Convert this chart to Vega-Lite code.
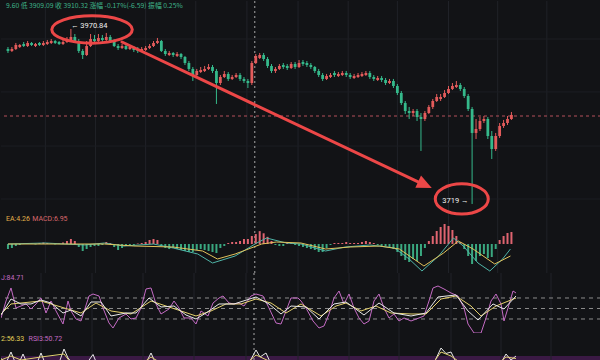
{
"$schema": "https://vega.github.io/schema/vega-lite/v6.json",
"background": "#121316",
"padding": 0,
"spacing": 0,
"bounds": "flush",
"resolve": {"scale": {"color": "independent"}},
"config": {"view": {"stroke": null}, "axis": {"disable": true}, "legend": {"disable": true}, "concat": {"spacing": 0}},
"datasets": {
"grid": [{"i":9.5},{"i":22.25},{"i":35},{"i":47.75},{"i":60.75},{"i":73.75},{"i":86.5},{"i":99},{"i":112},{"i":124.5},{"i":137}],
"hgrid": [{"p":3956.4},{"p":3880.2},{"p":3802.4},{"p":3726.2}],
"k": [
{"i":0,"o":3942.0,"h":3944.9,"l":3936.3,"c":3939.2},
{"i":1,"o":3939.2,"h":3944.9,"l":3937.7,"c":3942.0},
{"i":2,"o":3942.0,"h":3950.7,"l":3940.6,"c":3947.8},
{"i":3,"o":3944.9,"h":3949.2,"l":3943.5,"c":3947.8},
{"i":4,"o":3949.2,"h":3952.1,"l":3944.9,"c":3946.3},
{"i":5,"o":3946.3,"h":3953.5,"l":3944.9,"c":3950.7},
{"i":6,"o":3950.7,"h":3952.1,"l":3946.3,"c":3947.8},
{"i":7,"o":3946.3,"h":3950.7,"l":3944.9,"c":3949.2},
{"i":8,"o":3950.7,"h":3952.1,"l":3946.3,"c":3947.8},
{"i":9,"o":3947.8,"h":3953.5,"l":3946.3,"c":3950.7},
{"i":10,"o":3949.2,"h":3955.0,"l":3947.8,"c":3952.1},
{"i":11,"o":3950.7,"h":3956.4,"l":3949.2,"c":3953.5},
{"i":12,"o":3953.5,"h":3955.0,"l":3949.2,"c":3950.7},
{"i":13,"o":3952.1,"h":3953.5,"l":3947.8,"c":3949.2},
{"i":14,"o":3949.2,"h":3955.0,"l":3947.8,"c":3952.1},
{"i":15,"o":3952.1,"h":3959.3,"l":3950.7,"c":3955.0},
{"i":16,"o":3955.0,"h":3970.84,"l":3953.5,"c":3959.3},
{"i":17,"o":3959.3,"h":3963.6,"l":3952.1,"c":3953.5},
{"i":18,"o":3953.5,"h":3956.4,"l":3936.3,"c":3939.2},
{"i":19,"o":3939.2,"h":3942.0,"l":3927.6,"c":3933.4},
{"i":20,"o":3933.4,"h":3953.5,"l":3932.0,"c":3946.3},
{"i":21,"o":3946.3,"h":3963.6,"l":3944.9,"c":3956.4},
{"i":22,"o":3956.4,"h":3962.2,"l":3950.7,"c":3953.5},
{"i":23,"o":3953.5,"h":3963.6,"l":3952.1,"c":3957.9},
{"i":24,"o":3957.9,"h":3962.2,"l":3952.1,"c":3955.0},
{"i":25,"o":3955.0,"h":3965.1,"l":3953.5,"c":3959.3},
{"i":26,"o":3959.3,"h":3962.2,"l":3952.1,"c":3953.5},
{"i":27,"o":3953.5,"h":3956.4,"l":3944.9,"c":3946.3},
{"i":28,"o":3946.3,"h":3949.2,"l":3940.6,"c":3943.5},
{"i":29,"o":3943.5,"h":3949.2,"l":3942.0,"c":3946.3},
{"i":30,"o":3946.3,"h":3947.8,"l":3940.6,"c":3942.0},
{"i":31,"o":3942.0,"h":3947.8,"l":3940.6,"c":3944.9},
{"i":32,"o":3944.9,"h":3946.3,"l":3937.7,"c":3940.6},
{"i":33,"o":3942.0,"h":3944.9,"l":3936.3,"c":3939.2},
{"i":34,"o":3939.2,"h":3944.9,"l":3937.7,"c":3942.0},
{"i":35,"o":3940.6,"h":3946.3,"l":3939.2,"c":3943.5},
{"i":36,"o":3943.5,"h":3949.2,"l":3942.0,"c":3946.3},
{"i":37,"o":3946.3,"h":3953.5,"l":3944.9,"c":3950.7},
{"i":38,"o":3950.7,"h":3957.9,"l":3949.2,"c":3953.5},
{"i":39,"o":3953.5,"h":3955.0,"l":3937.7,"c":3939.2},
{"i":40,"o":3939.2,"h":3942.0,"l":3932.0,"c":3934.8},
{"i":41,"o":3933.4,"h":3939.2,"l":3932.0,"c":3936.3},
{"i":42,"o":3936.3,"h":3937.7,"l":3930.5,"c":3933.4},
{"i":43,"o":3932.0,"h":3937.7,"l":3930.5,"c":3934.8},
{"i":44,"o":3934.8,"h":3936.3,"l":3927.6,"c":3930.5},
{"i":45,"o":3930.5,"h":3932.0,"l":3919.0,"c":3921.9},
{"i":46,"o":3921.9,"h":3924.8,"l":3910.4,"c":3913.3},
{"i":47,"o":3913.3,"h":3916.1,"l":3896.0,"c":3904.6},
{"i":48,"o":3904.6,"h":3913.3,"l":3901.7,"c":3910.4},
{"i":49,"o":3908.9,"h":3916.1,"l":3907.5,"c":3911.8},
{"i":50,"o":3910.4,"h":3917.6,"l":3908.9,"c":3913.3},
{"i":51,"o":3913.3,"h":3920.4,"l":3911.8,"c":3916.1},
{"i":52,"o":3916.1,"h":3919.0,"l":3907.5,"c":3910.4},
{"i":53,"o":3910.4,"h":3913.3,"l":3862.9,"c":3893.1},
{"i":54,"o":3893.1,"h":3904.6,"l":3890.2,"c":3901.7},
{"i":55,"o":3901.7,"h":3910.4,"l":3900.3,"c":3906.1},
{"i":56,"o":3906.1,"h":3908.9,"l":3896.0,"c":3898.9},
{"i":57,"o":3898.9,"h":3904.6,"l":3897.4,"c":3901.7},
{"i":58,"o":3901.7,"h":3907.5,"l":3900.3,"c":3904.6},
{"i":59,"o":3904.6,"h":3907.5,"l":3896.0,"c":3898.9},
{"i":60,"o":3898.9,"h":3901.7,"l":3893.1,"c":3896.0},
{"i":61,"o":3896.0,"h":3898.9,"l":3885.9,"c":3893.1},
{"i":62,"o":3893.1,"h":3924.8,"l":3890.2,"c":3921.9},
{"i":63,"o":3921.9,"h":3934.8,"l":3920.4,"c":3932.0},
{"i":64,"o":3929.1,"h":3936.3,"l":3927.6,"c":3933.4},
{"i":65,"o":3933.4,"h":3936.3,"l":3924.8,"c":3927.6},
{"i":66,"o":3927.6,"h":3930.5,"l":3914.7,"c":3917.6},
{"i":67,"o":3917.6,"h":3920.4,"l":3907.5,"c":3910.4},
{"i":68,"o":3910.4,"h":3916.1,"l":3907.5,"c":3913.3},
{"i":69,"o":3913.3,"h":3920.4,"l":3911.8,"c":3917.6},
{"i":70,"o":3919.0,"h":3921.9,"l":3913.3,"c":3916.1},
{"i":71,"o":3917.6,"h":3920.4,"l":3911.8,"c":3914.7},
{"i":72,"o":3914.7,"h":3923.3,"l":3913.3,"c":3920.4},
{"i":73,"o":3920.4,"h":3923.3,"l":3913.3,"c":3916.1},
{"i":74,"o":3916.1,"h":3926.2,"l":3914.7,"c":3921.9},
{"i":75,"o":3923.3,"h":3926.2,"l":3917.6,"c":3920.4},
{"i":76,"o":3921.9,"h":3924.8,"l":3916.1,"c":3919.0},
{"i":77,"o":3919.0,"h":3921.9,"l":3913.3,"c":3916.1},
{"i":78,"o":3916.1,"h":3917.6,"l":3907.5,"c":3910.4},
{"i":79,"o":3910.4,"h":3913.3,"l":3901.7,"c":3904.6},
{"i":80,"o":3904.6,"h":3907.5,"l":3896.0,"c":3898.9},
{"i":81,"o":3898.9,"h":3906.1,"l":3897.4,"c":3903.2},
{"i":82,"o":3901.7,"h":3907.5,"l":3900.3,"c":3904.6},
{"i":83,"o":3907.5,"h":3910.4,"l":3901.7,"c":3904.6},
{"i":84,"o":3903.2,"h":3908.9,"l":3901.7,"c":3906.1},
{"i":85,"o":3904.6,"h":3910.4,"l":3903.2,"c":3907.5},
{"i":86,"o":3907.5,"h":3910.4,"l":3901.7,"c":3904.6},
{"i":87,"o":3904.6,"h":3907.5,"l":3898.9,"c":3901.7},
{"i":88,"o":3900.3,"h":3906.1,"l":3898.9,"c":3903.2},
{"i":89,"o":3901.7,"h":3907.5,"l":3900.3,"c":3904.6},
{"i":90,"o":3903.2,"h":3908.9,"l":3901.7,"c":3906.1},
{"i":91,"o":3904.6,"h":3910.4,"l":3903.2,"c":3907.5},
{"i":92,"o":3907.5,"h":3910.4,"l":3898.9,"c":3901.7},
{"i":93,"o":3901.7,"h":3904.6,"l":3896.0,"c":3898.9},
{"i":94,"o":3897.4,"h":3903.2,"l":3896.0,"c":3900.3},
{"i":95,"o":3900.3,"h":3903.2,"l":3894.5,"c":3897.4},
{"i":96,"o":3897.4,"h":3900.3,"l":3890.2,"c":3893.1},
{"i":97,"o":3893.1,"h":3898.9,"l":3891.7,"c":3896.0},
{"i":98,"o":3896.0,"h":3898.9,"l":3885.9,"c":3888.8},
{"i":99,"o":3888.8,"h":3891.7,"l":3875.8,"c":3878.7},
{"i":100,"o":3878.7,"h":3881.6,"l":3861.4,"c":3864.3},
{"i":101,"o":3864.3,"h":3867.2,"l":3848.5,"c":3852.8},
{"i":102,"o":3852.8,"h":3858.6,"l":3841.3,"c":3849.9},
{"i":103,"o":3849.9,"h":3855.7,"l":3845.6,"c":3852.8},
{"i":104,"o":3852.8,"h":3855.7,"l":3838.4,"c":3844.2},
{"i":105,"o":3844.2,"h":3849.9,"l":3795.3,"c":3841.3},
{"i":106,"o":3841.3,"h":3852.8,"l":3838.4,"c":3849.9},
{"i":107,"o":3849.9,"h":3861.4,"l":3848.5,"c":3858.6},
{"i":108,"o":3858.6,"h":3870.1,"l":3855.7,"c":3867.2},
{"i":109,"o":3867.2,"h":3877.3,"l":3865.8,"c":3873.0},
{"i":110,"o":3870.1,"h":3877.3,"l":3867.2,"c":3873.0},
{"i":111,"o":3873.0,"h":3883.0,"l":3871.5,"c":3878.7},
{"i":112,"o":3878.7,"h":3888.8,"l":3877.3,"c":3884.5},
{"i":113,"o":3884.5,"h":3893.1,"l":3883.0,"c":3888.8},
{"i":114,"o":3887.3,"h":3896.0,"l":3885.9,"c":3890.2},
{"i":115,"o":3890.2,"h":3893.1,"l":3881.6,"c":3884.5},
{"i":116,"o":3884.5,"h":3887.3,"l":3871.5,"c":3874.4},
{"i":117,"o":3874.4,"h":3877.3,"l":3852.8,"c":3855.7},
{"i":118,"o":3855.7,"h":3858.6,"l":3719.0,"c":3821.2},
{"i":119,"o":3821.2,"h":3841.3,"l":3812.5,"c":3826.9},
{"i":120,"o":3826.9,"h":3844.2,"l":3824.0,"c":3838.4},
{"i":121,"o":3838.4,"h":3845.6,"l":3835.5,"c":3841.3},
{"i":122,"o":3841.3,"h":3844.2,"l":3812.5,"c":3816.8},
{"i":123,"o":3816.8,"h":3824.0,"l":3783.7,"c":3798.1},
{"i":124,"o":3798.1,"h":3821.2,"l":3795.3,"c":3816.8},
{"i":125,"o":3816.8,"h":3835.5,"l":3814.0,"c":3831.2},
{"i":126,"o":3831.2,"h":3839.9,"l":3828.4,"c":3835.5},
{"i":127,"o":3835.5,"h":3845.6,"l":3832.7,"c":3841.3},
{"i":128,"o":3841.3,"h":3851.4,"l":3839.9,"c":3847.1}
],
"m": [
{"i":0,"m":-3.5},{"i":1,"m":-2.8},{"i":2,"m":-1.4},{"i":3,"m":-0.7},{"i":4,"m":0.35},{"i":5,"m":0.7},{"i":6,"m":0.35},{"i":7,"m":-0.35},{"i":8,"m":0.7},{"i":9,"m":1.05},
{"i":10,"m":0.7},{"i":11,"m":0.35},{"i":12,"m":-0.35},{"i":13,"m":0.35},{"i":14,"m":1.05},{"i":15,"m":2.1},{"i":16,"m":3.5},{"i":17,"m":2.1},{"i":18,"m":-2.1},{"i":19,"m":-4.9},
{"i":20,"m":-3.5},{"i":21,"m":-2.1},{"i":22,"m":-1.4},{"i":23,"m":-1.4},{"i":24,"m":-0.7},{"i":25,"m":1.4},{"i":26,"m":0.7},{"i":27,"m":-2.1},{"i":28,"m":-4.2},{"i":29,"m":-2.8},
{"i":30,"m":-1.4},{"i":31,"m":-0.7},{"i":32,"m":-0.7},{"i":33,"m":0.35},{"i":34,"m":0.7},{"i":35,"m":1.4},{"i":36,"m":2.8},{"i":37,"m":3.5},{"i":38,"m":2.8},{"i":39,"m":-1.4},
{"i":40,"m":-2.8},{"i":41,"m":-3.5},{"i":42,"m":-2.8},{"i":43,"m":-3.5},{"i":44,"m":-4.2},{"i":45,"m":-4.9},{"i":46,"m":-5.6},{"i":47,"m":-5.6},{"i":48,"m":-4.2},{"i":49,"m":-3.5},
{"i":50,"m":-4.2},{"i":51,"m":-4.9},{"i":52,"m":-5.6},{"i":53,"m":-6.3},{"i":54,"m":-2.8},{"i":55,"m":-1.4},{"i":56,"m":0.7},{"i":57,"m":1.4},{"i":58,"m":1.4},{"i":59,"m":2.1},
{"i":60,"m":3.5},{"i":61,"m":3.5},{"i":62,"m":5.6},{"i":63,"m":6.95},{"i":64,"m":9.0},{"i":65,"m":7.5},{"i":66,"m":5.0},{"i":67,"m":2.1},{"i":68,"m":-0.7},{"i":69,"m":-1.4},
{"i":70,"m":-1.4},{"i":71,"m":0.7},{"i":72,"m":0.7},{"i":73,"m":-0.7},{"i":74,"m":-1.4},{"i":75,"m":-2.1},{"i":76,"m":-2.8},{"i":77,"m":-3.5},{"i":78,"m":-4.2},{"i":79,"m":-5.6},
{"i":80,"m":-5.6},{"i":81,"m":-2.8},{"i":82,"m":-0.7},{"i":83,"m":0.7},{"i":84,"m":0.7},{"i":85,"m":0.7},{"i":86,"m":1.4},{"i":87,"m":0.7},{"i":88,"m":0.7},{"i":89,"m":0.7},
{"i":90,"m":1.4},{"i":91,"m":2.1},{"i":92,"m":1.4},{"i":93,"m":0.7},{"i":94,"m":-0.7},{"i":95,"m":-1.4},{"i":96,"m":-1.4},{"i":97,"m":-2.1},{"i":98,"m":-3.5},{"i":99,"m":-5.6},
{"i":100,"m":-8.4},{"i":101,"m":-11.2},{"i":102,"m":-12.6},{"i":103,"m":-10.5},{"i":104,"m":-11.9},{"i":105,"m":-8.4},{"i":106,"m":-2.8},{"i":107,"m":2.1},{"i":108,"m":5.6},{"i":109,"m":9.1},
{"i":110,"m":11.9},{"i":111,"m":14.0},{"i":112,"m":12.6},{"i":113,"m":9.8},{"i":114,"m":5.6},{"i":115,"m":1.4},{"i":116,"m":-3.5},{"i":117,"m":-8.4},{"i":118,"m":-14.0},{"i":119,"m":-11.9},
{"i":120,"m":-8.4},{"i":121,"m":-7.0},{"i":122,"m":-9.8},{"i":123,"m":-9.1},{"i":124,"m":-3.5},{"i":125,"m":2.8},{"i":126,"m":5.6},{"i":127,"m":7.7},{"i":128,"m":8.4}
],
"ml": [
{"i":0,"v":0,"s":"DIF"},{"i":9.5,"v":0.7,"s":"DIF"},{"i":19.5,"v":-0.7,"s":"DIF"},{"i":24.5,"v":0.7,"s":"DIF"},{"i":29.5,"v":-1.4,"s":"DIF"},{"i":37,"v":0,"s":"DIF"},{"i":42,"v":-2.8,"s":"DIF"},{"i":48.25,"v":-7,"s":"DIF"},{"i":52,"v":-13.3,"s":"DIF"},{"i":57.75,"v":-8.4,"s":"DIF"},{"i":63.25,"v":0.7,"s":"DIF"},{"i":65.75,"v":4.2,"s":"DIF"},{"i":70.75,"v":0.7,"s":"DIF"},{"i":74.5,"v":0,"s":"DIF"},{"i":80.75,"v":-4.9,"s":"DIF"},{"i":85.75,"v":-2.1,"s":"DIF"},{"i":92,"v":-0.7,"s":"DIF"},{"i":98.25,"v":-2.8,"s":"DIF"},{"i":102,"v":-10.5,"s":"DIF"},{"i":105.25,"v":-18.9,"s":"DIF"},{"i":109.5,"v":-8.4,"s":"DIF"},{"i":113.25,"v":4.2,"s":"DIF"},{"i":115.75,"v":-1.4,"s":"DIF"},{"i":119.5,"v":-13.3,"s":"DIF"},{"i":122.5,"v":-18.9,"s":"DIF"},{"i":125.75,"v":-10.5,"s":"DIF"},{"i":127.75,"v":-3.5,"s":"DIF"},
{"i":0,"v":0,"s":"DEA"},{"i":12,"v":0,"s":"DEA"},{"i":24.5,"v":0,"s":"DEA"},{"i":32,"v":-1.4,"s":"DEA"},{"i":42,"v":-2.1,"s":"DEA"},{"i":49.5,"v":-4.9,"s":"DEA"},{"i":53.25,"v":-10.5,"s":"DEA"},{"i":57.75,"v":-7.0,"s":"DEA"},{"i":64.5,"v":0,"s":"DEA"},{"i":68.25,"v":1.4,"s":"DEA"},{"i":74.5,"v":0.7,"s":"DEA"},{"i":80.75,"v":-3.5,"s":"DEA"},{"i":87,"v":-2.1,"s":"DEA"},{"i":94.5,"v":-1.4,"s":"DEA"},{"i":99.5,"v":-3.5,"s":"DEA"},{"i":105.75,"v":-15.4,"s":"DEA"},{"i":110.75,"v":-6.3,"s":"DEA"},{"i":114.5,"v":2.1,"s":"DEA"},{"i":118.25,"v":-3.5,"s":"DEA"},{"i":123.75,"v":-14.0,"s":"DEA"},{"i":127.75,"v":-8.4,"s":"DEA"}
],
"kdj": [
{"i":-0.5,"v":22.9,"s":"J"},{"i":0.75,"v":71.4,"s":"J"},{"i":2,"v":108.6,"s":"J"},{"i":3.25,"v":51.4,"s":"J"},{"i":5.75,"v":62.9,"s":"J"},{"i":7,"v":48.6,"s":"J"},{"i":8.25,"v":62.9,"s":"J"},{"i":9.5,"v":80,"s":"J"},{"i":10.75,"v":37.1,"s":"J"},{"i":12,"v":71.4,"s":"J"},{"i":13.25,"v":42.9,"s":"J"},{"i":15,"v":5.7,"s":"J"},{"i":16.25,"v":71.4,"s":"J"},{"i":17,"v":42.9,"s":"J"},{"i":18.25,"v":20,"s":"J"},{"i":19.5,"v":14.3,"s":"J"},{"i":21.5,"v":85.7,"s":"J"},{"i":22.5,"v":91.4,"s":"J"},{"i":24,"v":85.7,"s":"J"},{"i":25,"v":51.4,"s":"J"},{"i":26.5,"v":8.6,"s":"J"},{"i":27.5,"v":-5.7,"s":"J"},{"i":29,"v":22.9,"s":"J"},{"i":30.75,"v":34.3,"s":"J"},{"i":32,"v":20,"s":"J"},{"i":33.25,"v":22.9,"s":"J"},{"i":34.5,"v":51.4,"s":"J"},{"i":35.75,"v":105.7,"s":"J"},{"i":37,"v":108.6,"s":"J"},{"i":38.25,"v":62.9,"s":"J"},{"i":39.5,"v":34.3,"s":"J"},{"i":41.5,"v":48.6,"s":"J"},{"i":42.75,"v":71.4,"s":"J"},{"i":44,"v":51.4,"s":"J"},{"i":45.25,"v":22.9,"s":"J"},{"i":47,"v":22.9,"s":"J"},{"i":48.25,"v":5.7,"s":"J"},{"i":49.5,"v":42.9,"s":"J"},{"i":51.25,"v":28.6,"s":"J"},{"i":52.5,"v":65.7,"s":"J"},{"i":54,"v":80,"s":"J"},{"i":55,"v":85.7,"s":"J"},{"i":56.5,"v":65.7,"s":"J"},{"i":57.75,"v":62.9,"s":"J"},{"i":59,"v":65.7,"s":"J"},{"i":60.25,"v":57.1,"s":"J"},{"i":62,"v":85.7,"s":"J"},{"i":63.25,"v":91.4,"s":"J"},{"i":65,"v":85.7,"s":"J"},{"i":66.5,"v":51.4,"s":"J"},{"i":68.25,"v":8.6,"s":"J"},{"i":69.5,"v":5.7,"s":"J"},{"i":70.75,"v":42.9,"s":"J"},{"i":72,"v":80,"s":"J"},{"i":73.75,"v":80,"s":"J"},{"i":74.5,"v":71.4,"s":"J"},{"i":75.75,"v":51.4,"s":"J"},{"i":77.5,"v":14.3,"s":"J"},{"i":79,"v":-5.7,"s":"J"},{"i":80.25,"v":0,"s":"J"},{"i":81.5,"v":34.3,"s":"J"},{"i":82.75,"v":80,"s":"J"},{"i":84,"v":100,"s":"J"},{"i":85.25,"v":62.9,"s":"J"},{"i":86.5,"v":91.4,"s":"J"},{"i":87.75,"v":51.4,"s":"J"},{"i":89,"v":22.9,"s":"J"},{"i":90.25,"v":5.7,"s":"J"},{"i":91.5,"v":14.3,"s":"J"},{"i":92.75,"v":71.4,"s":"J"},{"i":94,"v":91.4,"s":"J"},{"i":95.25,"v":51.4,"s":"J"},{"i":96.5,"v":22.9,"s":"J"},{"i":97.75,"v":34.3,"s":"J"},{"i":99,"v":14.3,"s":"J"},{"i":100.25,"v":22.9,"s":"J"},{"i":102,"v":14.3,"s":"J"},{"i":104,"v":22.9,"s":"J"},{"i":105.25,"v":28.6,"s":"J"},{"i":106.5,"v":71.4,"s":"J"},{"i":107.5,"v":108.6,"s":"J"},{"i":108.75,"v":114.3,"s":"J"},{"i":110.25,"v":105.7,"s":"J"},{"i":112,"v":94.3,"s":"J"},{"i":113.75,"v":85.7,"s":"J"},{"i":115.25,"v":51.4,"s":"J"},{"i":116.25,"v":5.7,"s":"J"},{"i":117.75,"v":-20,"s":"J"},{"i":119.5,"v":-20,"s":"J"},{"i":120.75,"v":22.9,"s":"J"},{"i":122,"v":71.4,"s":"J"},{"i":123.25,"v":91.4,"s":"J"},{"i":124.5,"v":62.9,"s":"J"},{"i":125.25,"v":14.3,"s":"J"},{"i":126.25,"v":51.4,"s":"J"},{"i":127.5,"v":100,"s":"J"},{"i":128.25,"v":94.3,"s":"J"},
{"i":-0.5,"v":34.3,"s":"D"},{"i":2,"v":62.9,"s":"D"},{"i":4.5,"v":65.7,"s":"D"},{"i":9.5,"v":71.4,"s":"D"},{"i":14.5,"v":54.3,"s":"D"},{"i":19.5,"v":37.1,"s":"D"},{"i":23.25,"v":65.7,"s":"D"},{"i":27,"v":42.9,"s":"D"},{"i":32,"v":34.3,"s":"D"},{"i":37,"v":71.4,"s":"D"},{"i":40.75,"v":57.1,"s":"D"},{"i":44.5,"v":42.9,"s":"D"},{"i":48.25,"v":28.6,"s":"D"},{"i":52,"v":42.9,"s":"D"},{"i":55.75,"v":62.9,"s":"D"},{"i":59.5,"v":62.9,"s":"D"},{"i":63.25,"v":77.1,"s":"D"},{"i":67,"v":65.7,"s":"D"},{"i":70.75,"v":37.1,"s":"D"},{"i":74.5,"v":62.9,"s":"D"},{"i":79.5,"v":28.6,"s":"D"},{"i":83.25,"v":57.1,"s":"D"},{"i":85.75,"v":65.7,"s":"D"},{"i":89.5,"v":42.9,"s":"D"},{"i":93.25,"v":57.1,"s":"D"},{"i":97,"v":37.1,"s":"D"},{"i":102,"v":34.3,"s":"D"},{"i":105.75,"v":34.3,"s":"D"},{"i":109.5,"v":77.1,"s":"D"},{"i":113.25,"v":85.7,"s":"D"},{"i":117,"v":57.1,"s":"D"},{"i":119.5,"v":28.6,"s":"D"},{"i":123.25,"v":57.1,"s":"D"},{"i":128.25,"v":80,"s":"D"},
{"i":-0.5,"v":31.4,"s":"K"},{"i":2,"v":77.1,"s":"K"},{"i":4.5,"v":62.9,"s":"K"},{"i":7,"v":62.9,"s":"K"},{"i":9.5,"v":74.3,"s":"K"},{"i":12,"v":65.7,"s":"K"},{"i":15,"v":37.1,"s":"K"},{"i":17,"v":45.7,"s":"K"},{"i":19.5,"v":28.6,"s":"K"},{"i":22,"v":68.6,"s":"K"},{"i":24.5,"v":68.6,"s":"K"},{"i":27,"v":28.6,"s":"K"},{"i":30.75,"v":37.1,"s":"K"},{"i":33.25,"v":37.1,"s":"K"},{"i":36.5,"v":80,"s":"K"},{"i":39.5,"v":54.3,"s":"K"},{"i":42.75,"v":57.1,"s":"K"},{"i":45.75,"v":31.4,"s":"K"},{"i":48.25,"v":20,"s":"K"},{"i":50.75,"v":37.1,"s":"K"},{"i":54,"v":62.9,"s":"K"},{"i":57.75,"v":62.9,"s":"K"},{"i":63.25,"v":82.9,"s":"K"},{"i":66.5,"v":62.9,"s":"K"},{"i":69.5,"v":34.3,"s":"K"},{"i":72,"v":57.1,"s":"K"},{"i":75.75,"v":54.3,"s":"K"},{"i":79,"v":20,"s":"K"},{"i":82.75,"v":62.9,"s":"K"},{"i":85.75,"v":68.6,"s":"K"},{"i":90.25,"v":31.4,"s":"K"},{"i":94,"v":65.7,"s":"K"},{"i":97.75,"v":37.1,"s":"K"},{"i":102,"v":28.6,"s":"K"},{"i":105.75,"v":37.1,"s":"K"},{"i":108.75,"v":82.9,"s":"K"},{"i":113.25,"v":88.6,"s":"K"},{"i":116.25,"v":42.9,"s":"K"},{"i":118.75,"v":17.1,"s":"K"},{"i":122.5,"v":62.9,"s":"K"},{"i":125.25,"v":48.6,"s":"K"},{"i":128.25,"v":85.7,"s":"K"}
],
"rsi": [
{"i":-0.5,"v":75,"s":"R1"},{"i":0.75,"v":66,"s":"R1"},{"i":2,"v":88,"s":"R1"},{"i":3,"v":68,"s":"R1"},{"i":4,"v":66,"s":"R1"},{"i":5,"v":84,"s":"R1"},{"i":6,"v":66,"s":"R1"},{"i":8.5,"v":66,"s":"R1"},{"i":9.5,"v":86,"s":"R1"},{"i":10.5,"v":66,"s":"R1"},{"i":14,"v":66,"s":"R1"},{"i":15.25,"v":94,"s":"R1"},{"i":16.25,"v":76,"s":"R1"},{"i":17.5,"v":64,"s":"R1"},{"i":21,"v":66,"s":"R1"},{"i":22.5,"v":83,"s":"R1"},{"i":23.5,"v":64,"s":"R1"},{"i":35.75,"v":66,"s":"R1"},{"i":37,"v":86,"s":"R1"},{"i":38.25,"v":64,"s":"R1"},{"i":61.5,"v":66,"s":"R1"},{"i":63.25,"v":92,"s":"R1"},{"i":64.25,"v":78,"s":"R1"},{"i":65.75,"v":86,"s":"R1"},{"i":67,"v":64,"s":"R1"},{"i":107.75,"v":66,"s":"R1"},{"i":109.5,"v":96,"s":"R1"},{"i":110.75,"v":85,"s":"R1"},{"i":112,"v":88,"s":"R1"},{"i":113.5,"v":64,"s":"R1"},{"i":124.5,"v":66,"s":"R1"},{"i":125.75,"v":84,"s":"R1"},{"i":127,"v":72,"s":"R1"},{"i":128.25,"v":80,"s":"R1"},
{"i":-0.5,"v":72,"s":"R2"},{"i":2,"v":80,"s":"R2"},{"i":4.5,"v":72,"s":"R2"},{"i":9.5,"v":78,"s":"R2"},{"i":15.25,"v":84,"s":"R2"},{"i":17,"v":66,"s":"R2"},{"i":35,"v":66,"s":"R2"},{"i":37,"v":78,"s":"R2"},{"i":39.5,"v":66,"s":"R2"},{"i":61,"v":66,"s":"R2"},{"i":63.25,"v":82,"s":"R2"},{"i":66.5,"v":70,"s":"R2"},{"i":68,"v":64,"s":"R2"},{"i":107.5,"v":66,"s":"R2"},{"i":109.5,"v":88,"s":"R2"},{"i":112,"v":80,"s":"R2"},{"i":114.5,"v":66,"s":"R2"},{"i":124,"v":66,"s":"R2"},{"i":125.75,"v":78,"s":"R2"},{"i":128.25,"v":75,"s":"R2"}
]
},
"vconcat": [
{
"width": 600, "height": 215,
"layer": [
{"data": {"name": "grid"}, "mark": {"type": "rule", "color": "#202228", "strokeWidth": 1},
 "encoding": {"x": {"field": "i", "type": "quantitative", "scale": {"domain": [-0.5, 149.5], "nice": false, "zero": false}}}},
{"data": {"name": "hgrid"}, "mark": {"type": "rule", "color": "#1c1e23", "strokeWidth": 1},
 "encoding": {"y": {"field": "p", "type": "quantitative", "scale": {"domain": [3701.7, 4011.1], "nice": false, "zero": false}}}},
{"data": {"values": [{"p": 3845.6}]}, "mark": {"type": "rule", "color": "#b4505a", "strokeDash": [3, 3], "strokeWidth": 1},
 "encoding": {"y": {"field": "p", "type": "quantitative", "scale": {"domain": [3701.7, 4011.1], "nice": false, "zero": false}}}},
{"data": {"values": [{"i": 62.75}]}, "mark": {"type": "rule", "color": "#a8a8a8", "strokeDash": [2, 3], "strokeWidth": 1},
 "encoding": {"x": {"field": "i", "type": "quantitative", "scale": {"domain": [-0.5, 149.5], "nice": false, "zero": false}}}},
{"data": {"name": "k"}, "mark": {"type": "rule", "strokeWidth": 1},
 "encoding": {
  "x": {"field": "i", "type": "quantitative", "scale": {"domain": [-0.5, 149.5], "nice": false, "zero": false}},
  "y": {"field": "l", "type": "quantitative", "scale": {"domain": [3701.7, 4011.1], "nice": false, "zero": false}},
  "y2": {"field": "h"},
  "color": {"condition": {"test": "datum.c >= datum.o", "value": "#e35b5b"}, "value": "#35b98b"}}},
{"data": {"name": "k"}, "mark": {"type": "bar", "width": 2.8},
 "encoding": {
  "x": {"field": "i", "type": "quantitative", "scale": {"domain": [-0.5, 149.5], "nice": false, "zero": false}},
  "y": {"field": "o", "type": "quantitative", "scale": {"domain": [3701.7, 4011.1], "nice": false, "zero": false}},
  "y2": {"field": "c"},
  "color": {"condition": {"test": "datum.c >= datum.o", "value": "#e35b5b"}, "value": "#35b98b"}}},
{"data": {"values": [{"i": 29, "p": 3952.1, "i2": 105.75, "p2": 3747.0}]}, "mark": {"type": "rule", "color": "#ec4747", "strokeWidth": 3, "strokeCap": "round"},
 "encoding": {
  "x": {"field": "i", "type": "quantitative", "scale": {"domain": [-0.5, 149.5], "nice": false, "zero": false}},
  "y": {"field": "p", "type": "quantitative", "scale": {"domain": [3701.7, 4011.1], "nice": false, "zero": false}},
  "x2": {"field": "i2"}, "y2": {"field": "p2"}}},
{"data": {"values": [{"i": 107.75, "p": 3742.0}]}, "mark": {"type": "point", "shape": "M0,0L-1,-0.45L-1,0.45Z", "size": 900, "filled": true, "color": "#ec4747", "opacity": 1, "angle": 24.9},
 "encoding": {
  "x": {"field": "i", "type": "quantitative", "scale": {"domain": [-0.5, 149.5], "nice": false, "zero": false}},
  "y": {"field": "p", "type": "quantitative", "scale": {"domain": [3701.7, 4011.1], "nice": false, "zero": false}}}},
{"data": {"values": [{"i": 21.375, "p": 3970.1}]}, "mark": {"type": "point", "shape": "M-1,0C-1,-0.188,-0.552,-0.34,0,-0.34C0.552,-0.34,1,-0.188,1,0C1,0.188,0.552,0.34,0,0.34C-0.552,0.34,-1,0.188,-1,0Z", "size": 6480, "filled": false, "stroke": "#ec4747", "strokeWidth": 3, "opacity": 1},
 "encoding": {
  "x": {"field": "i", "type": "quantitative", "scale": {"domain": [-0.5, 149.5], "nice": false, "zero": false}},
  "y": {"field": "p", "type": "quantitative", "scale": {"domain": [3701.7, 4011.1], "nice": false, "zero": false}}}},
{"data": {"values": [{"i": 115.375, "p": 3726.2}]}, "mark": {"type": "point", "shape": "M-1,0C-1,-0.315,-0.552,-0.57,0,-0.57C0.552,-0.57,1,-0.315,1,0C1,0.315,0.552,0.57,0,0.57C-0.552,0.57,-1,0.315,-1,0Z", "size": 2809, "filled": false, "stroke": "#ec4747", "strokeWidth": 3, "opacity": 1},
 "encoding": {
  "x": {"field": "i", "type": "quantitative", "scale": {"domain": [-0.5, 149.5], "nice": false, "zero": false}},
  "y": {"field": "p", "type": "quantitative", "scale": {"domain": [3701.7, 4011.1], "nice": false, "zero": false}}}},
{"data": {"values": [{"i": -0.5, "p": 4004.0, "t": "9.60  低 3909.09  收 3910.32  涨幅 -0.17%(-6.59)  振幅 0.25%"}]},
 "mark": {"type": "text", "align": "left", "baseline": "middle", "fontSize": 6.8, "font": "Noto Sans CJK SC", "color": "#3fb38a"},
 "encoding": {
  "x": {"field": "i", "type": "quantitative", "scale": {"domain": [-0.5, 149.5], "nice": false, "zero": false}},
  "y": {"field": "p", "type": "quantitative", "scale": {"domain": [3701.7, 4011.1], "nice": false, "zero": false}},
  "text": {"field": "t"}}},
{"data": {"values": [{"i": 16, "p": 3975.1, "t": "← 3970.84"}]},
 "mark": {"type": "text", "align": "left", "baseline": "middle", "fontSize": 7.5, "font": "Roboto", "color": "#f0f0f0"},
 "encoding": {
  "x": {"field": "i", "type": "quantitative", "scale": {"domain": [-0.5, 149.5], "nice": false, "zero": false}},
  "y": {"field": "p", "type": "quantitative", "scale": {"domain": [3701.7, 4011.1], "nice": false, "zero": false}},
  "text": {"field": "t"}}},
{"data": {"values": [{"i": 117.1, "p": 3723.3, "t": "3719 →"}]},
 "mark": {"type": "text", "align": "right", "baseline": "middle", "fontSize": 7.5, "font": "Roboto", "color": "#f0f0f0"},
 "encoding": {
  "x": {"field": "i", "type": "quantitative", "scale": {"domain": [-0.5, 149.5], "nice": false, "zero": false}},
  "y": {"field": "p", "type": "quantitative", "scale": {"domain": [3701.7, 4011.1], "nice": false, "zero": false}},
  "text": {"field": "t"}}}
]
},
{
"width": 600, "height": 57,
"layer": [
{"data": {"name": "grid"}, "mark": {"type": "rule", "color": "#202228", "strokeWidth": 1},
 "encoding": {"x": {"field": "i", "type": "quantitative", "scale": {"domain": [-0.5, 149.5], "nice": false, "zero": false}}}},
{"data": {"values": [{"i": 62.75}]}, "mark": {"type": "rule", "color": "#a8a8a8", "strokeDash": [2, 3], "strokeWidth": 1},
 "encoding": {"x": {"field": "i", "type": "quantitative", "scale": {"domain": [-0.5, 149.5], "nice": false, "zero": false}}}},
{"data": {"name": "m"}, "mark": {"type": "bar", "width": 2},
 "encoding": {
  "x": {"field": "i", "type": "quantitative", "scale": {"domain": [-0.5, 149.5], "nice": false, "zero": false}},
  "y": {"field": "m", "type": "quantitative", "scale": {"domain": [-20.3, 19.6], "nice": false, "zero": false}},
  "y2": {"datum": 0},
  "color": {"condition": {"test": "datum.m >= 0", "value": "#df6470"}, "value": "#3aa880"}}},
{"data": {"name": "ml"}, "mark": {"type": "line", "strokeWidth": 1, "clip": true},
 "encoding": {
  "x": {"field": "i", "type": "quantitative", "scale": {"domain": [-0.5, 149.5], "nice": false, "zero": false}},
  "y": {"field": "v", "type": "quantitative", "scale": {"domain": [-20.3, 19.6], "nice": false, "zero": false}},
  "color": {"field": "s", "type": "nominal", "scale": {"domain": ["DIF", "DEA"], "range": ["#4fb5a8", "#e2c35c"]}, "legend": null}}},
{"data": {"values": [{"i": -0.5, "v": 17.5, "t": "EA:4.26"}]},
 "mark": {"type": "text", "align": "left", "baseline": "middle", "fontSize": 7, "font": "Roboto", "color": "#e2b04a"},
 "encoding": {
  "x": {"field": "i", "type": "quantitative", "scale": {"domain": [-0.5, 149.5], "nice": false, "zero": false}},
  "y": {"field": "v", "type": "quantitative", "scale": {"domain": [-20.3, 19.6], "nice": false, "zero": false}},
  "text": {"field": "t"}}},
{"data": {"values": [{"i": 6.2, "v": 17.5, "t": "MACD:6.95"}]},
 "mark": {"type": "text", "align": "left", "baseline": "middle", "fontSize": 7, "font": "Roboto", "color": "#d9676c"},
 "encoding": {
  "x": {"field": "i", "type": "quantitative", "scale": {"domain": [-0.5, 149.5], "nice": false, "zero": false}},
  "y": {"field": "v", "type": "quantitative", "scale": {"domain": [-20.3, 19.6], "nice": false, "zero": false}},
  "text": {"field": "t"}}}
]
},
{
"width": 600, "height": 60,
"layer": [
{"data": {"name": "grid"}, "mark": {"type": "rule", "color": "#202228", "strokeWidth": 1},
 "encoding": {"x": {"field": "i", "type": "quantitative", "scale": {"domain": [-0.5, 149.5], "nice": false, "zero": false}}}},
{"data": {"values": [{"v": 80}, {"v": 50}, {"v": 20}]}, "mark": {"type": "rule", "color": "#8c8c8c", "strokeDash": [4, 4], "strokeWidth": 1},
 "encoding": {"y": {"field": "v", "type": "quantitative", "scale": {"domain": [-20, 151.4], "nice": false, "zero": false}}}},
{"data": {"values": [{"i": 62.75}]}, "mark": {"type": "rule", "color": "#a8a8a8", "strokeDash": [2, 3], "strokeWidth": 1},
 "encoding": {"x": {"field": "i", "type": "quantitative", "scale": {"domain": [-0.5, 149.5], "nice": false, "zero": false}}}},
{"data": {"name": "kdj"}, "mark": {"type": "line", "strokeWidth": 1, "clip": true},
 "encoding": {
  "x": {"field": "i", "type": "quantitative", "scale": {"domain": [-0.5, 149.5], "nice": false, "zero": false}},
  "y": {"field": "v", "type": "quantitative", "scale": {"domain": [-20, 151.4], "nice": false, "zero": false}},
  "color": {"field": "s", "type": "nominal", "scale": {"domain": ["J", "D", "K"], "range": ["#c46bc4", "#e3cf6b", "#e8e8e8"]}, "legend": null}}},
{"data": {"values": [{"i": -0.5, "v": 137, "t": "J:84.71"}]},
 "mark": {"type": "text", "align": "left", "baseline": "middle", "fontSize": 7, "font": "Roboto", "color": "#c46bc4"},
 "encoding": {
  "x": {"field": "i", "type": "quantitative", "scale": {"domain": [-0.5, 149.5], "nice": false, "zero": false}},
  "y": {"field": "v", "type": "quantitative", "scale": {"domain": [-20, 151.4], "nice": false, "zero": false}},
  "text": {"field": "t"}}}
]
},
{
"width": 600, "height": 28,
"layer": [
{"data": {"values": [{"a": 70, "b": 80, "i": -0.5, "i2": 149.5}]}, "mark": {"type": "rect", "color": "#3a1944"},
 "encoding": {
  "x": {"field": "i", "type": "quantitative", "scale": {"domain": [-0.5, 149.5], "nice": false, "zero": false}},
  "x2": {"field": "i2"},
  "y": {"field": "a", "type": "quantitative", "scale": {"domain": [70, 126], "nice": false, "zero": false}},
  "y2": {"field": "b"}}},
{"data": {"name": "grid"}, "mark": {"type": "rule", "color": "#202228", "strokeWidth": 1},
 "encoding": {"x": {"field": "i", "type": "quantitative", "scale": {"domain": [-0.5, 149.5], "nice": false, "zero": false}}}},
{"data": {"values": [{"i": 62.75}]}, "mark": {"type": "rule", "color": "#a8a8a8", "strokeDash": [2, 3], "strokeWidth": 1},
 "encoding": {"x": {"field": "i", "type": "quantitative", "scale": {"domain": [-0.5, 149.5], "nice": false, "zero": false}}}},
{"data": {"name": "rsi"}, "mark": {"type": "line", "strokeWidth": 1, "clip": true},
 "encoding": {
  "x": {"field": "i", "type": "quantitative", "scale": {"domain": [-0.5, 149.5], "nice": false, "zero": false}},
  "y": {"field": "v", "type": "quantitative", "scale": {"domain": [70, 126], "nice": false, "zero": false}},
  "color": {"field": "s", "type": "nominal", "scale": {"domain": ["R1", "R2"], "range": ["#e8e8e8", "#e0d070"]}, "legend": null}}},
{"data": {"values": [{"i": -0.5, "v": 114, "t": "2:56.33"}]},
 "mark": {"type": "text", "align": "left", "baseline": "middle", "fontSize": 7, "font": "Roboto", "color": "#e3d25a"},
 "encoding": {
  "x": {"field": "i", "type": "quantitative", "scale": {"domain": [-0.5, 149.5], "nice": false, "zero": false}},
  "y": {"field": "v", "type": "quantitative", "scale": {"domain": [70, 126], "nice": false, "zero": false}},
  "text": {"field": "t"}}},
{"data": {"values": [{"i": 6.4, "v": 114, "t": "RSI3:50.72"}]},
 "mark": {"type": "text", "align": "left", "baseline": "middle", "fontSize": 7, "font": "Roboto", "color": "#c46bc4"},
 "encoding": {
  "x": {"field": "i", "type": "quantitative", "scale": {"domain": [-0.5, 149.5], "nice": false, "zero": false}},
  "y": {"field": "v", "type": "quantitative", "scale": {"domain": [70, 126], "nice": false, "zero": false}},
  "text": {"field": "t"}}}
]
}
]
}
